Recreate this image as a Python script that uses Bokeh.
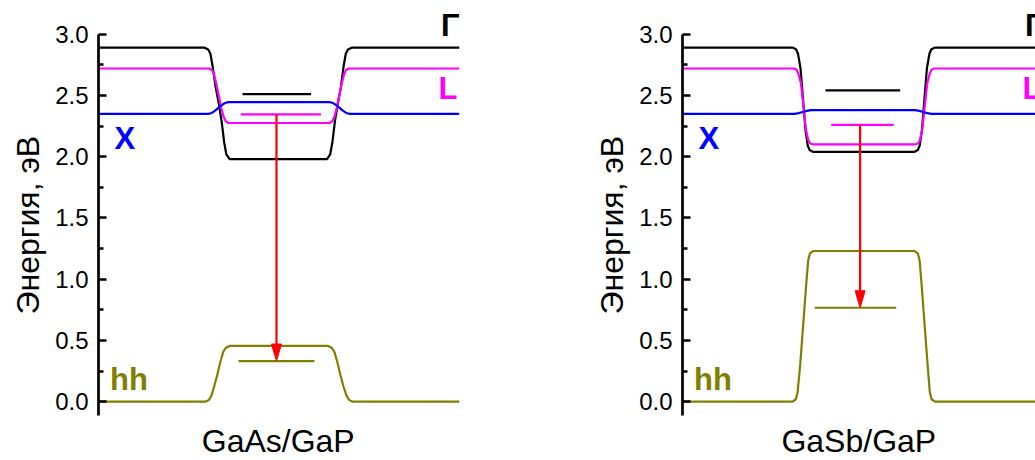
from bokeh.plotting import figure
from bokeh.layouts import row
from bokeh.models import Range1d, FixedTicker, Title
from bokeh.core.properties import value
from bokeh.embed import file_html
from bokeh.resources import INLINE

FONT = "Liberation Sans"
C_G, C_L, C_X, C_HH, C_AR = "#000000", "#FF00FF", "#0000FF", "#808000", "#FF0000"

# ---- axis ticks / texts ----
y_ticks = [0.0, 0.5, 1.0, 1.5, 2.0, 2.5, 3.0]
y_tick_labels = ["0.0", "0.5", "1.0", "1.5", "2.0", "2.5", "3.0"]
y_minor = [0.25, 0.75, 1.25, 1.75, 2.25, 2.75]
y_title = "Энергия, эВ"
band_names = ["Γ", "L", "X", "hh"]

# ---- GaAs/GaP panel ----
gaas_title = "GaAs/GaP"
gaas_G_x = [0, 29.4, 30.4, 31.0, 31.6, 32.5, 33.3, 34.1, 34.8, 35.4, 36.3, 63.3, 64.2, 64.8, 65.5, 66.3, 67.1, 67.9, 68.5, 69.1, 70.1, 100]
gaas_G_y = [2.89, 2.89, 2.875, 2.84, 2.74, 2.56, 2.435, 2.29, 2.12, 2.02, 1.98, 1.98, 2.02, 2.12, 2.29, 2.435, 2.56, 2.74, 2.84, 2.875, 2.89, 2.89]
gaas_L_x = [0, 30.6, 31.5, 32.0, 32.6, 33.3, 34.0, 34.6, 35.2, 36.0, 64.0, 64.8, 65.4, 66.0, 66.7, 67.4, 68.0, 68.5, 69.4, 100]
gaas_L_y = [2.72, 2.72, 2.705, 2.67, 2.6, 2.5, 2.4, 2.33, 2.29, 2.275, 2.275, 2.29, 2.33, 2.4, 2.5, 2.6, 2.67, 2.705, 2.72, 2.72]
gaas_X_x = [0, 30.4, 31.4, 32.4, 33.2, 34.0, 35.0, 36.0, 64.0, 65.0, 66.0, 66.8, 67.6, 68.6, 69.6, 100]
gaas_X_y = [2.35, 2.35, 2.357, 2.378, 2.398, 2.418, 2.438, 2.445, 2.445, 2.438, 2.418, 2.398, 2.378, 2.357, 2.35, 2.35]
gaas_hh_x = [0, 29.6, 30.6, 31.3, 32.0, 32.9, 33.8, 34.6, 35.3, 36.3, 63.6, 64.6, 65.3, 66.1, 67.0, 67.9, 68.7, 69.4, 70.4, 100]
gaas_hh_y = [0, 0, 0.015, 0.05, 0.12, 0.22, 0.33, 0.41, 0.44, 0.455, 0.455, 0.44, 0.41, 0.33, 0.22, 0.12, 0.05, 0.015, 0, 0]
# confined levels: Γ, L, hh  (x0, x1, energy)
gaas_lev_x0 = [39.9, 39.4, 38.8]
gaas_lev_x1 = [58.9, 61.6, 59.8]
gaas_lev_y = [2.51, 2.346, 0.332]
gaas_arrow = (49.3, 2.346, 0.332)

# ---- GaSb/GaP panel ----
gasb_title = "GaSb/GaP"
gasb_G_x = [0, 30.6, 31.5, 32.0, 32.7, 33.4, 34.1, 34.7, 35.2, 36.1, 64.3, 65.2, 65.7, 66.3, 67.0, 67.7, 68.4, 68.9, 69.8, 100]
gasb_G_y = [2.89, 2.89, 2.875, 2.84, 2.72, 2.465, 2.21, 2.09, 2.055, 2.04, 2.04, 2.055, 2.09, 2.21, 2.465, 2.72, 2.84, 2.875, 2.89, 2.89]
gasb_L_x = [0, 30.8, 31.6, 32.1, 32.8, 33.5, 34.2, 34.8, 35.3, 36.2, 64.4, 65.3, 65.8, 66.4, 67.1, 67.8, 68.5, 69.0, 69.8, 100]
gasb_L_y = [2.72, 2.72, 2.71, 2.68, 2.6, 2.41, 2.22, 2.14, 2.11, 2.10, 2.10, 2.11, 2.14, 2.22, 2.41, 2.6, 2.68, 2.71, 2.72, 2.72]
gasb_X_x = [0, 31.0, 32.2, 33.3, 34.4, 35.6, 64.4, 65.6, 66.7, 67.8, 69.0, 100]
gasb_X_y = [2.35, 2.35, 2.356, 2.365, 2.374, 2.38, 2.38, 2.374, 2.365, 2.356, 2.35, 2.35]
gasb_hh_x = [0, 30.5, 31.4, 31.9, 32.6, 33.4, 34.2, 34.8, 35.3, 36.2, 64.3, 65.2, 65.7, 66.3, 67.1, 67.9, 68.5, 69.0, 69.9, 100]
gasb_hh_y = [0, 0, 0.02, 0.08, 0.3, 0.615, 0.93, 1.15, 1.21, 1.23, 1.23, 1.21, 1.15, 0.93, 0.615, 0.3, 0.08, 0.02, 0, 0]
gasb_lev_x0 = [39.6, 41.2, 36.6]
gasb_lev_x1 = [60.3, 58.5, 59.2]
gasb_lev_y = [2.542, 2.259, 0.767]
gasb_arrow = (49.2, 2.259, 0.767)

# band label anchors (x, y)
label_x = [94.9, 94.2, 4.4, 3.2]
label_y = [3.075, 2.553, 2.15, 0.185]
label_colors = [C_G, C_L, C_X, C_HH]

PX_X = 3.61    # px per x unit
PX_Y = 122.5   # px per energy unit


def panel(bands, lev_x0, lev_x1, lev_y, arrow, title, title_x, frame_w, x_end, b_left, b_right):
    p = figure(frame_width=frame_w, frame_height=460,
               x_range=Range1d(0, x_end), y_range=Range1d(-0.48, 3.275),
               output_backend="svg", toolbar_location=None,
               min_border_left=b_left, min_border_right=b_right,
               min_border_top=0, min_border_bottom=0)
    p.outline_line_color = None
    p.xgrid.visible = False
    p.ygrid.visible = False
    p.xaxis.visible = False
    p.background_fill_color = "white"
    p.border_fill_color = "white"

    ax = p.yaxis[0]
    ax.bounds = (-0.11, 3.0)
    ax.ticker = FixedTicker(ticks=y_ticks, minor_ticks=y_minor)
    ax.major_label_overrides = {t: s for t, s in zip(y_ticks, y_tick_labels)}
    ax.axis_line_width = 2.7
    ax.major_tick_line_width = 2.5
    ax.minor_tick_line_width = 2.5
    ax.major_tick_in = 8
    ax.major_tick_out = 0
    ax.minor_tick_in = 5
    ax.minor_tick_out = 0
    ax.major_label_standoff = 10
    ax.major_label_text_font = FONT
    ax.major_label_text_font_size = "24px"
    ax.major_label_text_color = "black"

    colors = [C_G, C_L, C_X, C_HH]
    for (bx, by), c in zip(bands, colors):
        p.line(bx, by, line_color=c, line_width=2.2)

    lev_colors = [C_G, C_L, C_HH]
    p.segment(x0=lev_x0, y0=lev_y, x1=lev_x1, y1=lev_y, line_color=lev_colors, line_width=2.2)

    ax_x, ay0, ay1 = arrow
    head_len = 17 / PX_Y
    head_hw = 5 / PX_X
    p.segment(x0=[ax_x], y0=[ay0], x1=[ax_x], y1=[ay1 + head_len], line_color=C_AR, line_width=2.2)
    p.patch([ax_x - head_hw, ax_x + head_hw, ax_x], [ay1 + head_len, ay1 + head_len, ay1],
            fill_color=C_AR, line_color=C_AR, line_width=1)

    p.text(x=label_x, y=label_y, text=band_names, text_color=label_colors,
           text_font=value(FONT), text_font_size="31px", text_font_style="bold",
           text_align="left", text_baseline="alphabetic")

    # panel caption below the plot
    p.text(x=[title_x], y=[-0.317], text=[title], text_color="black",
           text_font=value(FONT), text_font_size="32px",
           text_align="left", text_baseline="alphabetic")

    p.add_layout(Title(text=y_title, align="left", offset=146, vertical_align="bottom",
                       text_font=FONT, text_font_size="32px", text_font_style="normal",
                       text_color="black", standoff=14), "left")
    return p


p1 = panel([(gaas_G_x, gaas_G_y), (gaas_L_x, gaas_L_y), (gaas_X_x, gaas_X_y), (gaas_hh_x, gaas_hh_y)],
           gaas_lev_x0, gaas_lev_x1, gaas_lev_y, gaas_arrow, gaas_title, 28.6,
           361, 100, 97, 122)
p2 = panel([(gasb_G_x, gasb_G_y), (gasb_L_x, gasb_L_y), (gasb_X_x, gasb_X_y), (gasb_hh_x, gasb_hh_y)],
           gasb_lev_x0, gasb_lev_x1, gasb_lev_y, gasb_arrow, gasb_title, 27.4,
           354, 354 / PX_X, 101, 0)

layout = row(p1, p2)
open("out.html", "w").write(file_html(layout, INLINE))
